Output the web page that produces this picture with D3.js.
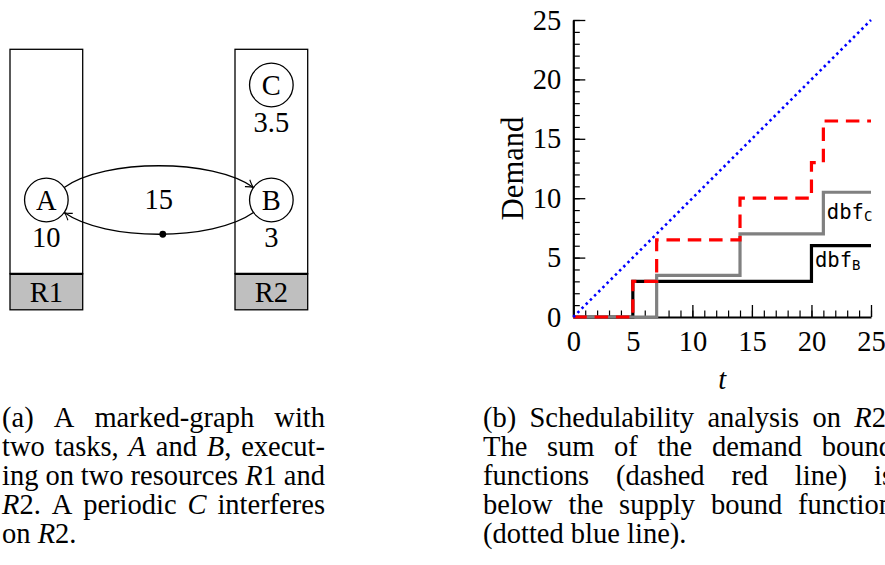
<!DOCTYPE html>
<html>
<head>
<meta charset="utf-8">
<script src="https://cdn.jsdelivr.net/npm/d3@7"></script>
<style>
  html, body { margin: 0; padding: 0; background: #fff; }
  svg { display: block; }
</style>
</head>
<body>
<svg id="fig" width="885" height="565"></svg>
<script>
// Demand bound functions on R2 (breakpoints and levels of each step function)
const dbfBTimes    = [0, 5, 20, 25];
const dbfBLevels   = [0, 3, 6, 6];
const dbfCTimes    = [0, 7, 14, 21, 25];
const dbfCLevels   = [0, 3.5, 7, 10.5, 10.5];
const dbfSumTimes  = [0, 5, 7, 14, 20, 21, 25];
const dbfSumLevels = [0, 3, 6.5, 10, 13, 16.5, 16.5];
// Supply bound function of R2
const sbfTimes  = [0, 25];
const sbfLevels = [0, 25];

const xTickValues = [0, 5, 10, 15, 20, 25];
const xTickLabels = ["0", "5", "10", "15", "20", "25"];
const yTickValues = [0, 5, 10, 15, 20, 25];
const yTickLabels = ["0", "5", "10", "15", "20", "25"];
const seriesLabels = [["dbf", "B"], ["dbf", "C"]];

// Marked graph: resources, tasks with their costs, cycle weight
const resourceNames = ["R1", "R2"];
const taskNames = ["A", "B", "C"];
const taskCosts = ["10", "3", "3.5"];
const cycleWeight = "15";

// Sub-captions (underscores delimit italic runs)
const captionA = [
  "(a) A marked-graph with",
  "two tasks, _A_ and _B_, execut-",
  "ing on two resources _R_1 and",
  "_R_2. A periodic _C_ interferes",
  "on _R_2."
];
const captionB = [
  "(b) Schedulability analysis on _R_2.",
  "The sum of the demand bound",
  "functions (dashed red line) is",
  "below the supply bound function",
  "(dotted blue line)."
];

// ---------------------------------------------------------------
const W = 885, H = 565;
const serif = "'Liberation Serif', 'Times New Roman', serif";
const mono = "'DejaVu Sans Mono', monospace";
const FS = 28.5;

const svg = d3.select("#fig");
svg.append("rect").attr("width", W).attr("height", H).attr("fill", "#fff");

// ===== (a) marked graph =====
const diag = svg.append("g").attr("class", "diagram");
const colLeft = [10, 235], colW = 72.7;
const colTop = 49.3, colSplit = 273.8, colBottom = 309.8;
const colCx = colLeft.map(l => l + colW / 2);
const nodeR = 21.8;
// task -> [column, centre y]
const taskPlace = { A: [0, 200], B: [1, 200], C: [1, 85] };

resourceNames.forEach((name, i) => {
  const g = diag.append("g");
  g.append("rect").attr("x", colLeft[i]).attr("y", colTop)
    .attr("width", colW).attr("height", colSplit - colTop)
    .attr("fill", "#fff").attr("stroke", "#000").attr("stroke-width", 1.3);
  g.append("rect").attr("x", colLeft[i]).attr("y", colSplit)
    .attr("width", colW).attr("height", colBottom - colSplit)
    .attr("fill", "#bfbfbf").attr("stroke", "#000").attr("stroke-width", 1.3);
  g.append("line").attr("x1", colLeft[i]).attr("x2", colLeft[i] + colW)
    .attr("y1", colSplit).attr("y2", colSplit)
    .attr("stroke", "#000").attr("stroke-width", 2.2);
  g.append("text").attr("x", colCx[i]).attr("y", colSplit + 28.5)
    .attr("text-anchor", "middle").attr("font-family", serif).attr("font-size", FS)
    .text(name);
});

const nodePos = {};
taskNames.forEach((name, i) => {
  const [c, cy] = taskPlace[name];
  const cx = colCx[c];
  nodePos[name] = [cx, cy];
  diag.append("circle").attr("cx", cx).attr("cy", cy).attr("r", nodeR)
    .attr("fill", "#fff").attr("stroke", "#000").attr("stroke-width", 1.3);
  diag.append("text").attr("x", cx).attr("y", cy + 9.6)
    .attr("text-anchor", "middle").attr("font-family", serif).attr("font-size", FS)
    .text(name);
  diag.append("text").attr("x", cx).attr("y", cy + nodeR + 25.5)
    .attr("text-anchor", "middle").attr("font-family", serif).attr("font-size", FS)
    .text(taskCosts[i]);
});

// arrow tip
const defs = svg.append("defs");
defs.append("marker").attr("id", "tip").attr("markerUnits", "userSpaceOnUse")
  .attr("orient", "auto").attr("refX", 0).attr("refY", 0)
  .attr("viewBox", "-9 -6 10 12").attr("markerWidth", 10).attr("markerHeight", 12)
  .append("path").attr("d", "M-7.5,-4.2 Q-2.5,-0.6 0,0 Q-2.5,0.6 -7.5,4.2")
  .attr("fill", "none").attr("stroke", "#000").attr("stroke-width", 1.1);

const ang = 35 * Math.PI / 180;
const onCircle = (name, a) => [nodePos[name][0] + nodeR * Math.cos(a), nodePos[name][1] + nodeR * Math.sin(a)];
const pA1 = onCircle("A", -ang), pB1 = onCircle("B", Math.PI + ang);
const pB2 = onCircle("B", Math.PI - ang), pA2 = onCircle("A", ang);
const bend = 29;
const upper = d3.path();
upper.moveTo(pA1[0], pA1[1]);
upper.bezierCurveTo(pA1[0] + 41, pA1[1] - bend, pB1[0] - 41, pB1[1] - bend, pB1[0], pB1[1]);
const lower = d3.path();
lower.moveTo(pB2[0], pB2[1]);
lower.bezierCurveTo(pB2[0] - 41, pB2[1] + bend, pA2[0] + 41, pA2[1] + bend, pA2[0], pA2[1]);

diag.append("path").attr("d", upper.toString()).attr("fill", "none")
  .attr("stroke", "#000").attr("stroke-width", 1.3).attr("marker-end", "url(#tip)");
const lowerPath = diag.append("path").attr("d", lower.toString()).attr("fill", "none")
  .attr("stroke", "#000").attr("stroke-width", 1.3).attr("marker-end", "url(#tip)");
// initial token on the back edge
const ln = lowerPath.node();
const tok = ln.getPointAtLength(ln.getTotalLength() * 0.48);
diag.append("circle").attr("cx", tok.x).attr("cy", tok.y).attr("r", 3.4).attr("fill", "#000");

diag.append("text").attr("x", (colCx[0] + colCx[1]) / 2).attr("y", 209)
  .attr("text-anchor", "middle").attr("font-family", serif).attr("font-size", FS)
  .text(cycleWeight);

// ===== (b) demand vs supply on R2 =====
const x = d3.scaleLinear().domain([0, 25]).range([573.3, 871]);
const y = d3.scaleLinear().domain([0, 25]).range([317, 20]);
const plot = svg.append("g").attr("class", "plot");

// minor ticks
plot.append("g").attr("transform", `translate(0,${y(0)})`)
  .call(d3.axisBottom(x).tickValues(d3.range(0, 26)).tickSize(-6.5).tickFormat(""))
  .call(g => g.select(".domain").remove())
  .call(g => g.selectAll("line").attr("stroke-width", 1.2));
plot.append("g").attr("transform", `translate(${x(0)},0)`)
  .call(d3.axisLeft(y).tickValues(d3.range(0, 26)).tickSize(-6.5).tickFormat(""))
  .call(g => g.select(".domain").remove())
  .call(g => g.selectAll("line").attr("stroke-width", 1.2));

// major ticks + axis lines
const styleAxis = g => {
  g.select(".domain").attr("stroke-width", 2.2);
  g.selectAll(".tick line").attr("stroke-width", 1.3);
  g.selectAll("text").attr("font-family", serif).attr("font-size", FS).attr("fill", "#000");
};
plot.append("g").attr("transform", `translate(0,${y(0)})`)
  .call(d3.axisBottom(x).tickValues(xTickValues).tickFormat((d, i) => xTickLabels[i])
    .tickSize(-12).tickSizeOuter(0).tickPadding(14))
  .call(styleAxis);
plot.append("g").attr("transform", `translate(${x(0)},0)`)
  .call(d3.axisLeft(y).tickValues(yTickValues).tickFormat((d, i) => yTickLabels[i])
    .tickSize(-12).tickSizeOuter(0).tickPadding(12))
  .call(styleAxis);

// axis titles
plot.append("text").attr("transform", `translate(523,${(y(0) + y(25)) / 2}) rotate(-90)`)
  .attr("text-anchor", "middle").attr("font-family", serif).attr("font-size", 30.5)
  .text("Demand");
plot.append("text").attr("x", x(12.5)).attr("y", 389)
  .attr("text-anchor", "middle").attr("font-family", serif).attr("font-size", FS)
  .attr("font-style", "italic").text("t");

// step curves
const step = d3.line().x(d => x(d[0])).y(d => y(d[1])).curve(d3.curveStepAfter);
const straight = d3.line().x(d => x(d[0])).y(d => y(d[1]));

plot.append("path").attr("d", step(d3.zip(dbfBTimes, dbfBLevels)))
  .attr("fill", "none").attr("stroke", "#000").attr("stroke-width", 3.2);
plot.append("path").attr("d", step(d3.zip(dbfCTimes, dbfCLevels)))
  .attr("fill", "none").attr("stroke", "#808080").attr("stroke-width", 3.2);
plot.append("path").attr("d", step(d3.zip(dbfSumTimes, dbfSumLevels)))
  .attr("fill", "none").attr("stroke", "#ff0000").attr("stroke-width", 3.2)
  .attr("stroke-dasharray", "13.5 7.8");
plot.append("path").attr("d", straight(d3.zip(sbfTimes, sbfLevels)))
  .attr("fill", "none").attr("stroke", "#0000ff").attr("stroke-width", 2.6)
  .attr("stroke-dasharray", "2.5 3.4");

// curve labels, placed below-right of the last step of each dbf
const labelAt = [
  { t: dbfBTimes[2], v: dbfBLevels[2], dx: 3.5, dy: 21.5 },
  { t: dbfCTimes[3], v: dbfCLevels[3], dx: 3.5, dy: 26.5 }
];
seriesLabels.forEach(([main, sub], i) => {
  const a = labelAt[i];
  const t = plot.append("text").attr("x", x(a.t) + a.dx).attr("y", y(a.v) + a.dy)
    .attr("font-family", mono).attr("fill", "#000");
  t.append("tspan").attr("font-size", 20.5).text(main);
  t.append("tspan").attr("font-size", 14).attr("dy", 2.5).text(sub);
});

// ===== captions (justified paragraphs) =====
function paragraph(lines, x0, x1, y0, lh) {
  lines.forEach((line, i) => {
    const words = line.split(" ");
    const t = svg.append("text").attr("y", y0 + i * lh)
      .attr("font-family", serif).attr("font-size", FS).attr("fill", "#000");
    const spans = words.map(w => {
      const ws = t.append("tspan");
      w.split("_").forEach((part, k) => {
        if (part === "") return;
        const s = ws.append("tspan").text(part);
        if (k % 2 === 1) s.attr("font-style", "italic");
      });
      return ws;
    });
    const widths = spans.map(s => s.node().getComputedTextLength());
    const total = d3.sum(widths);
    const last = i === lines.length - 1;
    const gap = last ? FS * 0.25 : (x1 - x0 - total) / (words.length - 1);
    let cx = x0;
    spans.forEach((s, k) => {
      s.attr("x", cx);
      cx += widths[k] + gap;
    });
  });
}
paragraph(captionA, 2, 325, 427, 29);
paragraph(captionB, 483, 893, 427, 29);
</script>
</body>
</html>
